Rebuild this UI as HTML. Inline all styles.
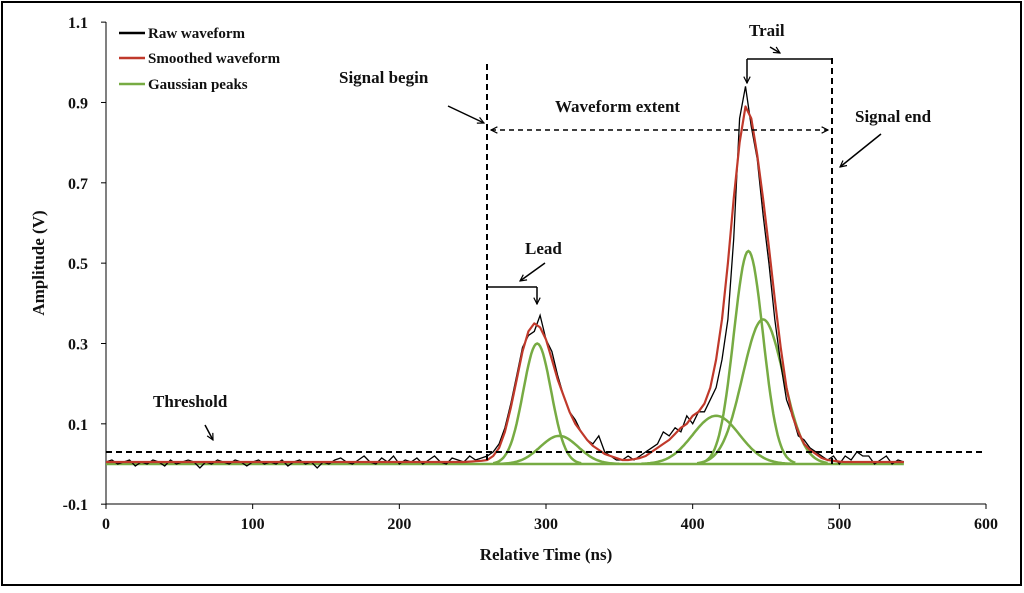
<!DOCTYPE html>
<html><head><meta charset="utf-8"><style>
body{margin:0;background:#fff;}
svg text{font-family:"Liberation Serif",serif;font-weight:bold;fill:#111;}
</style></head><body>
<svg id="chart" width="1024" height="588" viewBox="0 0 1024 588">
<defs>
<marker id="ah" viewBox="0 0 10 10" refX="9" refY="5" markerWidth="8" markerHeight="8" orient="auto-start-reverse" markerUnits="userSpaceOnUse"><path d="M1,1 L9,5 L1,9" fill="none" stroke="#000" stroke-width="1.5"/></marker>
</defs>
<rect x="2" y="2" width="1019" height="583" fill="#fff" stroke="#000" stroke-width="2"/>
<g id="axes"></g>
<g id="series"></g>
<g id="annot"></g>
</svg>
<script>
const xTicks=[0,100,200,300,400,500,600];
const yTicks=[-0.1,0.1,0.3,0.5,0.7,0.9,1.1];
const gaussAmp=[0.30,0.07,0.12,0.53,0.36];
const gaussCenter=[294,309,416,438,448];
const gaussSigma=[9.5,13,16,10,14];
const rawTime=[];for(let i=0;i<=136;i++)rawTime.push(i*4);
const rawValues=[0.005,0.01,0.0,0.005,0.01,-0.005,0.005,0.0,0.01,0.005,-0.005,0.01,0.0,0.005,0.01,0.005,-0.01,0.005,0.0,0.01,0.005,0.0,0.01,0.005,-0.005,0.005,0.01,0.0,0.005,0.0,0.01,-0.005,0.005,0.01,0.0,0.005,-0.01,0.005,0.0,0.01,0.015,0.005,0.0,0.01,0.02,0.005,0.0,0.015,0.005,0.02,0.0,0.01,0.005,0.015,0.0,0.01,0.02,0.005,0.0,0.015,0.01,0.005,0.02,0.01,0.015,
0.02,0.03,0.05,0.09,0.15,0.22,0.29,0.32,0.33,0.37,0.31,0.28,0.22,0.17,0.13,0.11,0.08,0.06,0.05,0.07,0.03,0.02,0.01,0.01,0.02,0.01,0.02,0.03,0.04,0.05,0.08,0.07,0.09,0.08,0.12,0.10,0.13,0.13,0.16,0.19,0.26,0.36,0.56,0.86,0.94,0.84,0.76,0.62,0.50,0.36,0.25,0.16,0.12,0.07,0.06,0.04,0.03,0.02,0.01,0.02,0.0,0.02,0.01,0.03,0.02,0.02,0.0,0.01,0.02,0.0,0.01,0.005];
const smoothValues=[0.005,0.005,0.005,0.005,0.005,0.005,0.005,0.005,0.005,0.005,0.005,0.005,0.005,0.005,0.005,0.005,0.005,0.005,0.005,0.005,0.005,0.005,0.005,0.005,0.005,0.005,0.005,0.005,0.005,0.005,0.005,0.005,0.005,0.005,0.005,0.005,0.005,0.005,0.005,0.005,0.005,0.005,0.005,0.005,0.005,0.005,0.005,0.005,0.005,0.005,0.005,0.005,0.005,0.005,0.005,0.005,0.005,0.005,0.005,0.005,0.005,0.005,0.006,0.007,0.008,
0.01,0.02,0.04,0.08,0.14,0.21,0.28,0.33,0.35,0.34,0.31,0.26,0.21,0.17,0.13,0.10,0.08,0.06,0.045,0.035,0.025,0.02,0.015,0.01,0.01,0.012,0.015,0.02,0.03,0.04,0.05,0.06,0.075,0.09,0.10,0.12,0.13,0.15,0.19,0.26,0.36,0.50,0.66,0.80,0.89,0.86,0.77,0.66,0.54,0.41,0.29,0.19,0.12,0.08,0.05,0.035,0.025,0.015,0.01,0.008,0.006,0.005,0.005,0.005,0.005,0.005,0.005,0.005,0.005,0.005,0.005,0.005];
const NS='http://www.w3.org/2000/svg';
const X=t=>106+t*880/600, Y=v=>464-v*401.7;
function el(tag,attrs,parent,txt){const e=document.createElementNS(NS,tag);for(const k in attrs)e.setAttribute(k,attrs[k]);if(txt!==undefined)e.textContent=txt;document.getElementById(parent).appendChild(e);return e;}
let a=el('line',{x1:106,y1:22,x2:106,y2:504,stroke:'#000','stroke-width':1},'axes');


a=el('line',{x1:106,y1:504,x2:986,y2:504,stroke:'#000','stroke-width':1},'axes');


yTicks.forEach(v=>{
 el('line',{x1:101,y1:Y(v),x2:106,y2:Y(v),stroke:'#000'},'axes');
 const t=el('text',{x:88,y:Y(v)+6,'text-anchor':'end','font-size':16},'axes',v.toFixed(1));
 
 
});
xTicks.forEach(v=>{
 el('line',{x1:X(v),y1:504,x2:X(v),y2:509,stroke:'#000'},'axes');
 const t=el('text',{x:X(v),y:529,'text-anchor':'middle','font-size':16},'axes',String(v));
 
 
});
let tt=el('text',{x:546,y:560,'text-anchor':'middle','font-size':17},'axes','Relative Time (ns)');


tt=el('text',{x:0,y:0,'text-anchor':'middle','font-size':17,transform:'translate(44,263) rotate(-90)'},'axes','Amplitude  (V)');


const g=(i,t)=>gaussAmp[i]*Math.exp(-((t-gaussCenter[i])**2)/(2*gaussSigma[i]**2));
el('line',{x1:X(0),y1:Y(0),x2:X(544),y2:Y(0),stroke:'#77ab43','stroke-width':2.5},'series');
gaussAmp.forEach((_,i)=>{
 let d='';const s=3.2*gaussSigma[i];
 for(let t=Math.round(gaussCenter[i]-s);t<=gaussCenter[i]+s;t+=1){d+=(d?'L':'M')+X(t).toFixed(1)+','+Y(g(i,t)).toFixed(1);}
 const p=el('path',{d,fill:'none',stroke:'#77ab43','stroke-width':2.5},'series');
 
 
});
let d='';rawTime.forEach((t,i)=>{d+=(i?'L':'M')+X(t).toFixed(1)+','+Y(rawValues[i]).toFixed(1);});
let p=el('path',{d,fill:'none',stroke:'#000','stroke-width':1.3},'series');


d='';rawTime.forEach((t,i)=>{d+=(i?'L':'M')+X(t).toFixed(1)+','+Y(smoothValues[i]).toFixed(1);});
p=el('path',{d,fill:'none',stroke:'#c0392b','stroke-width':2.2,'stroke-linejoin':'round'},'series');


[['Raw waveform','#000',33],['Smoothed waveform','#c0392b',58],['Gaussian peaks','#77ab43',84]].forEach(([n,c,y])=>{
 el('line',{x1:119,y1:y,x2:145,y2:y,stroke:c,'stroke-width':2.5},'annot');
 const t=el('text',{x:148,y:y+5,'font-size':15},'annot',n);
 
 
});
const dash={stroke:'#000','stroke-width':2,'stroke-dasharray':'6,4',fill:'none'};
function line(x1,y1,x2,y2,extra,name){const l=el('line',Object.assign({x1,y1,x2,y2,stroke:'#000','stroke-width':1.5},extra||{}),'annot');return l;}
line(106,452,986,452,dash,'threshold-line');
line(487,64,487,464,dash,'signal-begin-line');
line(832,58,832,464,dash,'signal-end-line');
line(491,130,828,130,{'stroke-dasharray':'5,4','marker-start':'url(#ah)','marker-end':'url(#ah)'},'waveform-extent-arrow');
line(488,287,537,287,{},'lead-bracket');
line(537,287,537,304,{'marker-end':'url(#ah)'},'lead-arrow');
line(747,59,832,59,{},'trail-bracket');
line(747,59,747,83,{'marker-end':'url(#ah)'},'trail-arrow');
line(205,425,213,440,{'marker-end':'url(#ah)'},'threshold-pointer');
line(448,106,484,123,{'marker-end':'url(#ah)'},'signal-begin-pointer');
line(881,134,840,167,{'marker-end':'url(#ah)'},'signal-end-pointer');
line(545,263,520,281,{'marker-end':'url(#ah)'},'lead-pointer');
line(770,47,780,53,{'marker-end':'url(#ah)'},'trail-pointer');
[['Threshold',153,407,'threshold-label'],['Signal begin',339,83,'signal-begin-label'],['Waveform extent',555,112,'waveform-extent-label'],['Signal end',855,122,'signal-end-label'],['Lead',525,254,'lead-label'],['Trail',749,36,'trail-label']].forEach(([s,x,y,n])=>{
 const t=el('text',{x,y,'font-size':17},'annot',s);
 
 
});
</script>
</body></html>
